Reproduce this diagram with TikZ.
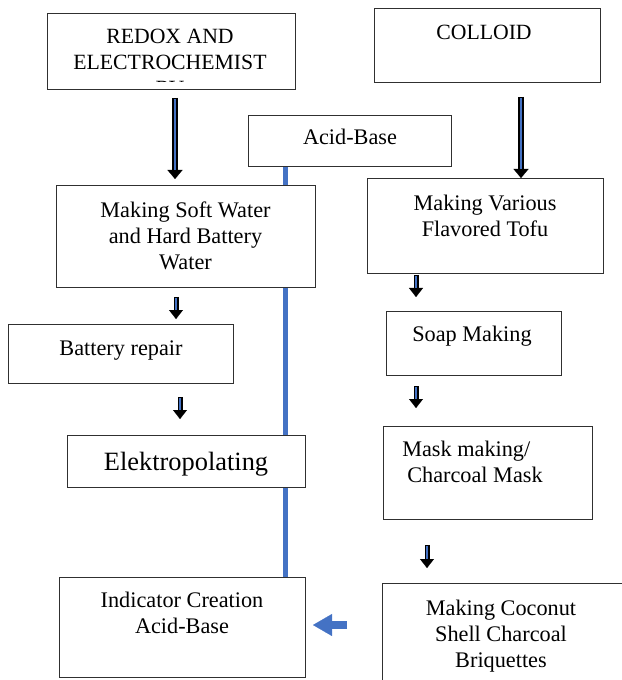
\documentclass[tikz,border=0pt]{standalone}
\usepackage{fontspec}
\setmainfont{Liberation Serif}
\usetikzlibrary{arrows.meta}
\definecolor{officeblue}{HTML}{4472C4}
\definecolor{boxline}{HTML}{303030}
\newcommand\boxfont{\fontsize{16.7pt}{19.5pt}\selectfont}
\newcommand\capfont{\fontsize{16.3pt}{19.5pt}\selectfont}
\newcommand\bigboxfont{\fontsize{19.8pt}{21pt}\selectfont}
\tikzset{
  boxnode/.style={draw=boxline, line width=0.75pt, fill=white, anchor=north west, inner sep=0pt},
  txt/.style={inner sep=0pt, anchor=north, align=center, font=\boxfont, text=black},
  bigout/.style={line width=4.5pt, black, -{Triangle[width=11.25pt,length=6.75pt,line width=0.1pt]}},
  bigin/.style={line width=2pt, officeblue},
  smallout/.style={line width=3.75pt, black, -{Triangle[width=10.5pt,length=6.75pt,line width=0.1pt]}},
  smallin/.style={line width=1.6pt, officeblue},
  bluearr/.style={line width=6pt, officeblue, -{Triangle[width=16.5pt,length=14.25pt,line width=0.1pt]}},
  vline/.style={line width=3.75pt, officeblue},
}
\newcommand\bx[5]{\node[boxnode, minimum width=#4*0.75pt-#2*0.75pt, minimum height=#5*0.75pt-#3*0.75pt] (#1) at (#2,#3) {};}
\begin{document}
\begin{tikzpicture}[x=0.75pt, y=-0.75pt]
\useasboundingbox (0,0) rectangle (621,680);
% connector line behind boxes
\coordinate (vtop) at (285,166);
\coordinate (vbot) at (285,577);
\draw[vline] (vtop) -- (vbot);
% boxes
\bx{redox}{47}{13}{295}{89}
\bx{colloid}{374}{8}{600}{82}
\bx{acid}{248}{115}{451}{166}
\bx{soft}{56}{185}{315}{287}
\bx{tofu}{367}{178}{603}{273}
\bx{battery}{8}{324}{233}{383}
\bx{soap}{386}{311}{561}{375}
\bx{elektro}{67}{435}{305}{487}
\bx{mask}{383}{426}{592}{519}
\bx{indicator}{59}{577}{305}{677}
\bx{coconut}{382}{583}{628}{700}
% texts
\begin{scope}
\clip (48,14) rectangle (294,81.5);
\node[txt, font=\capfont] (redoxT) at (170,29) {REDOX AND\\ELECTROCHEMIST\\RY};
\end{scope}
\node[txt, font=\capfont] (colloidT) at (484,25) {COLLOID};
\node[txt] (acidT) at (350,129) {Acid-Base};
\node[txt] (softT) at (185.5,202) {Making Soft Water\\and Hard Battery\\Water};
\node[txt] (tofuT) at (485,195) {Making Various\\Flavored Tofu};
\node[txt] (batteryT) at (121,340) {Battery repair};
\node[txt] (soapT) at (472,326) {Soap Making};
\node[txt, font=\bigboxfont] (elektroT) at (186,452) {Elektropolating};
\node[txt, anchor=north west, align=left] (maskT) at (402,441) {Mask making/\\\hspace{3.75pt}Charcoal Mask};
\node[txt] (indicatorT) at (182,592) {Indicator Creation\\Acid-Base};
\node[txt] (coconutT) at (501,600) {Making Coconut\\Shell Charcoal\\Briquettes};
% arrows
\coordinate (a1s) at (175,98);  \coordinate (a1e) at (175,179);
\coordinate (a2s) at (521,97);  \coordinate (a2e) at (521,178);
\coordinate (a3s) at (176,297); \coordinate (a3e) at (176,319);
\coordinate (a4s) at (180,397); \coordinate (a4e) at (180,419);
\coordinate (a5s) at (416,275); \coordinate (a5e) at (416,297);
\coordinate (a6s) at (416,386); \coordinate (a6e) at (416,408);
\coordinate (a7s) at (427,545); \coordinate (a7e) at (427,568);
\coordinate (a8s) at (347,625); \coordinate (a8e) at (313,625);
\foreach \a in {a1,a2}{
  \draw[bigout] (\a s) -- (\a e);
  \draw[bigin] ([yshift=-1.1pt]\a s) -- ([yshift=6.75pt]\a e);
}
\foreach \a in {a3,a4,a5,a6,a7}{
  \draw[smallout] (\a s) -- (\a e);
  \draw[smallin] ([yshift=-1.1pt]\a s) -- ([yshift=6.75pt]\a e);
}
\draw[bluearr] (a8s) -- (a8e);
\end{tikzpicture}
\end{document}
